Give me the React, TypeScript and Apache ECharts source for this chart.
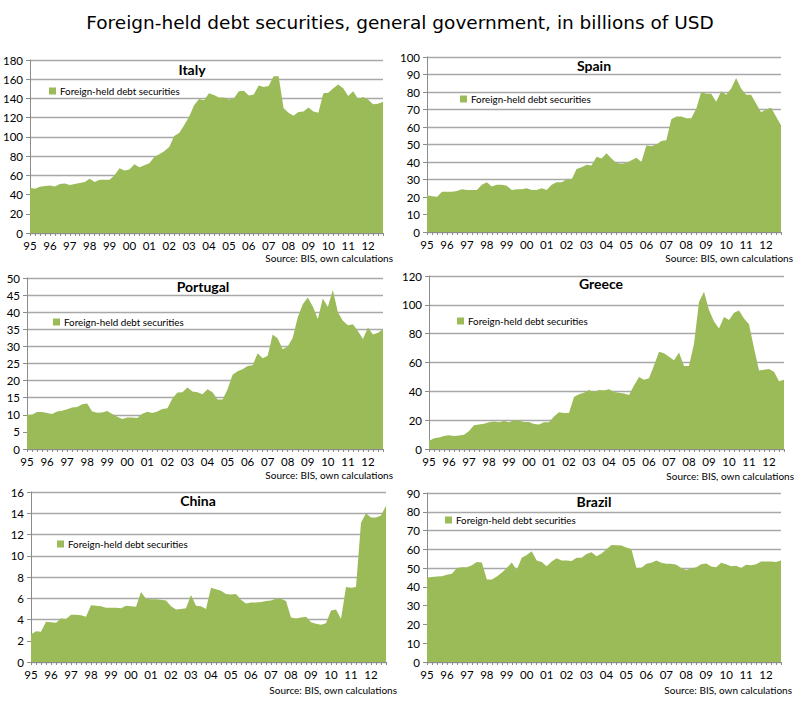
import React, { useEffect, useRef } from "react";
import * as echarts from "echarts";

const YEARS = ["95","96","97","98","99","00","01","02","03","04","05","06","07","08","09","10","11","12"];
const QUARTERS = YEARS.flatMap((y) => [y + "Q1", y + "Q2", y + "Q3", y + "Q4"]);

const ITALY = [47,46,48,49, 49.5,48.5,51,51.5, 50,51,52,53, 56.5,53,55.5,55.5, 55.5,60,67.5,65, 66,71.5,68.5,70.5, 72.5,79,82,85, 89.5,101,104,112, 121,133,139.5,138, 145.5,143.5,141,141, 139,140,147.5,148, 143,144,153.5,152, 153,163,163,130, 125,122,126,126.5, 130.5,126.5,125,145.5, 146,150.5,154.5,150.5, 142.5,147.5,139.5,141.5, 139,134,134.5,136.5];
const SPAIN = [21,20.5,20,23, 23,23,23.5,24.5, 24,24,24,27, 28.5,26,27,27, 26.5,24,24.5,24.5, 25,24,24,25, 24,27,28.5,28.5, 30,30,36,37, 38.5,38,43,42, 45,42,39.5,39, 39.5,41,42.5,40, 49.5,49,50,52, 52.5,64.5,66,66, 65,65,70.5,80, 79,79,74.5,80.5, 78.5,82,88,82, 78.5,78.5,73.5,68.5, 70,71,66,61];
const PORTUGAL = [10,10,10.8,10.8, 10.5,10.2,11,11.2, 11.6,12.1,12.3,13.1, 13.3,11,10.6,10.7, 11.1,10.2,9.4,8.8, 9.2,9.2,9.1,10.3, 10.9,10.5,11,11.7, 11.9,14.8,16.5,16.6, 18,16.8,16.6,16, 17.5,16.6,14.5,14.5, 17.5,21.7,22.7,23.3, 24.3,24.5,28,26.5, 27.3,33.5,32.3,29.2, 30,32.5,38.5,42.3, 44.3,41.7,38,44, 41.5,46.5,40,37.5, 36.2,36.5,34.5,32.2, 35.5,33.5,34,35];
const GREECE = [5.5,7.5,8,9, 9.5,9,9.3,9.8, 12.5,16.5,17,17.5, 18.5,19,18.5,19.5, 18.5,20,19.8,18.8, 18.7,17.3,17,18.5, 18.5,22.5,25.5,25, 25,36,38,39, 41,39.5,41,40.5, 41.5,39.5,39,38.5, 37.5,44,50,48, 49,58,67.5,66.5, 64,61.5,67,57.5, 57.5,73,102,109, 96.5,88.5,83.5,91.5, 89.5,94.5,96,90.5, 86.5,70,54.5,55, 55.5,53.5,47,48];
const CHINA = [2.6,2.9,2.85,3.8, 3.75,3.7,4.1,4.05, 4.45,4.45,4.4,4.25, 5.35,5.3,5.25,5.1, 5.1,5.1,5.05,5.3, 5.25,5.2,6.6,5.95, 5.9,5.9,5.85,5.8, 5.25,4.95,5.0,5.05, 6.3,5.3,5.25,5.0, 7.0,6.85,6.7,6.4, 6.35,6.4,5.85,5.5, 5.6,5.6,5.65,5.75, 5.8,5.95,5.95,5.75, 4.2,4.1,4.2,4.25, 3.75,3.6,3.5,3.65, 4.85,4.95,4.05,7.05, 7.0,7.05,13.1,14.0, 13.6,13.6,13.8,14.7];
const BRAZIL = [45,45.3,45.5,45.7, 46.5,47,50,50.5, 50.5,51.5,53.2,53, 44,44,45.5,47.5, 50,53,49,55.5, 57,59,54,53.2, 51,53.5,55.2,54, 54,53.8,55.5,55.5, 57.5,58.5,56.3,57.8, 60,62.3,62.2,62, 61,60,50,50.2, 52.3,52.8,54,52.8, 52.3,52.3,51.8,50, 49,49.8,50.5,52, 52.5,50.8,50.5,52.8, 52,51,51.3,50, 51.8,51.5,52,53.5, 53.5,53.5,53.3,54];

const COUNTRIES = ["Italy", "Spain", "Portugal", "Greece", "China", "Brazil"];
const VALUES = [ITALY, SPAIN, PORTUGAL, GREECE, CHINA, BRAZIL];
const Y_MAX = [180, 100, 50, 120, 16, 90];
const Y_STEP = [20, 10, 5, 20, 2, 10];

const SERIES_NAME = "Foreign-held debt securities";
const MAIN_TITLE = "Foreign-held debt securities, general government, in billions of USD";
const SOURCE = "Source: BIS, own calculations";

// layout per panel (pixels)
const GRIDS = [
  { left: 28, top: 60, width: 355, height: 173 },
  { left: 427, top: 57, width: 354, height: 175 },
  { left: 27, top: 278, width: 356, height: 171 },
  { left: 429, top: 276, width: 355, height: 173 },
  { left: 31, top: 492, width: 355, height: 170 },
  { left: 427, top: 493, width: 354, height: 169 },
];
const PANEL_TITLE_POS = [
  { x: 192, y: 71 }, { x: 594, y: 67 }, { x: 203, y: 288 },
  { x: 601, y: 285 }, { x: 198, y: 502 }, { x: 594, y: 503 },
];
const LEGEND_POS = [
  { x: 49, y: 93 }, { x: 460, y: 101 }, { x: 53, y: 324 },
  { x: 457, y: 323 }, { x: 57, y: 546 }, { x: 445, y: 522 },
];
const SOURCE_POS = [
  { x: 393, y: 259 }, { x: 793, y: 259 }, { x: 393, y: 476 },
  { x: 794, y: 477 }, { x: 397, y: 691 }, { x: 792, y: 691 },
];

const GREEN = "#9BBB59";
const FONT = "Lato";

export default function App() {
  const ref = useRef<HTMLDivElement>(null);
  useEffect(() => {
    document.body.style.margin = "0";
    const chart = echarts.init(ref.current!, undefined, { renderer: "svg" });
    const option: any = {
      animation: false,
      backgroundColor: "#ffffff",
      title: [
        {
          text: MAIN_TITLE,
          left: "center",
          top: 8,
          textStyle: { fontFamily: "DejaVu Sans", fontSize: 18.5, fontWeight: "normal", color: "#000" },
        },
        ...COUNTRIES.map((c, i) => ({
          text: c,
          left: PANEL_TITLE_POS[i].x,
          top: PANEL_TITLE_POS[i].y - 9,
          textAlign: "center",
          padding: 0,
          textStyle: { fontFamily: FONT, fontSize: 14, fontWeight: "bold", color: "#000" },
        })),
      ],
      legend: COUNTRIES.map((c, i) => ({
        data: [SERIES_NAME],
        left: LEGEND_POS[i].x,
        top: LEGEND_POS[i].y - 7,
        padding: 0,
        icon: "rect",
        itemWidth: 7,
        itemHeight: 7,
        itemGap: 4,
        selectedMode: false,
        textStyle: { fontFamily: FONT, fontSize: 9.8, color: "#000", padding: [0, 0, 0, -1] },
      })),
      graphic: SOURCE_POS.map((p) => ({
        type: "text",
        right: 800 - p.x,
        top: p.y - 6,
        style: { text: SOURCE, font: `10px ${FONT}`, fill: "#000" },
      })),
      grid: GRIDS.map((g) => ({ ...g, containLabel: false })),
      xAxis: GRIDS.map((_, i) => ({
        type: "category",
        gridIndex: i,
        data: QUARTERS,
        boundaryGap: false,
        axisLine: { lineStyle: { color: "#8c8c8c", width: 1 } },
        axisTick: { show: true, interval: 0, length: 3, lineStyle: { color: "#8c8c8c" } },
        axisLabel: {
          interval: 3,
          margin: 6,
          fontFamily: FONT,
          fontSize: 11.5,
          color: "#000",
          formatter: (v: string) => v.split("Q")[0],
        },
        splitLine: { show: false },
      })),
      yAxis: GRIDS.map((_, i) => ({
        type: "value",
        gridIndex: i,
        min: 0,
        max: Y_MAX[i],
        interval: Y_STEP[i],
        axisLine: { show: true, lineStyle: { color: "#8c8c8c", width: 1 } },
        axisTick: { show: true, length: 4, lineStyle: { color: "#8c8c8c" } },
        axisLabel: { margin: 7, fontFamily: FONT, fontSize: 11.5, color: "#000" },
        splitLine: { show: true, lineStyle: { color: "#a8a8a8", width: 1.3 } },
      })),
      series: VALUES.map((vals, i) => ({
        name: SERIES_NAME,
        type: "line",
        xAxisIndex: i,
        yAxisIndex: i,
        data: vals,
        symbol: "none",
        lineStyle: { width: 0, color: GREEN },
        itemStyle: { color: GREEN },
        areaStyle: { color: GREEN, opacity: 1 },
        z: 1,
      })),
    };
    chart.setOption(option);
    return () => chart.dispose();
  }, []);
  return <div ref={ref} style={{ width: 800, height: 701 }} />;
}
